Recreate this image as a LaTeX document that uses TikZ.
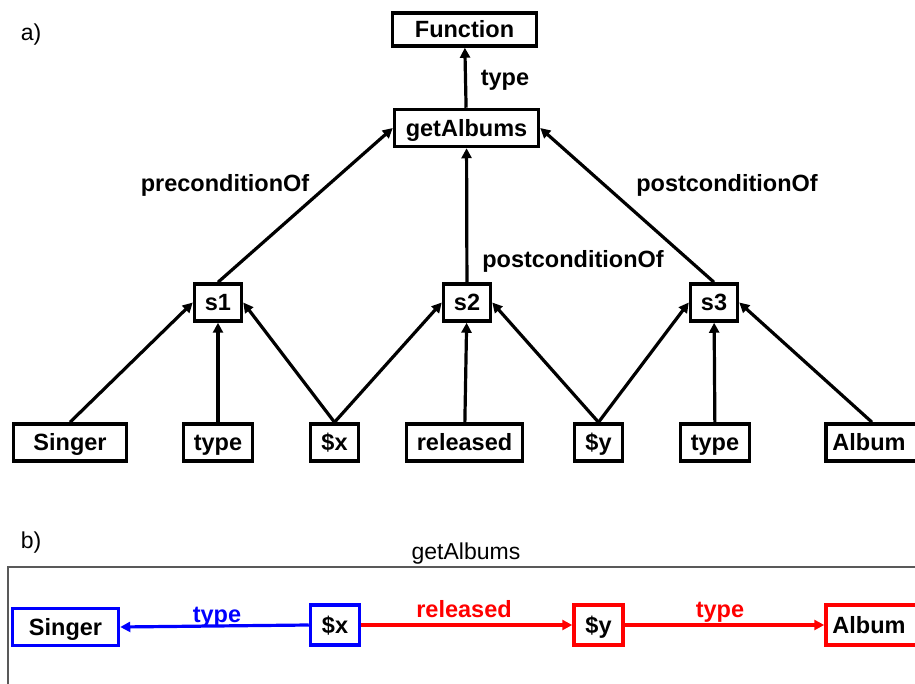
\documentclass[tikz,border=0pt]{standalone}
\usepackage{fontspec}
\setmainfont{Liberation Sans}
\usetikzlibrary{arrows.meta}
\begin{document}
\begin{tikzpicture}[x=1pt,y=-1pt,
  box/.style={draw, line width=3.5pt, inner sep=0pt, minimum height=37pt,
    text height=18pt, text depth=1.5pt,
    font=\fontsize{23.5}{27}\selectfont\bfseries},
  lbl/.style={font=\fontsize{23.5}{27}\selectfont\bfseries, inner sep=0pt,
    text height=18pt, text depth=1.5pt},
  plain/.style={font=\fontsize{23}{27}\selectfont, inner sep=0pt,
    text height=18pt, text depth=1.5pt},
  arr/.style={line width=3.2pt, -{Triangle[length=10pt,width=10pt]}},
  bluebox/.style={box, draw=blue},
  redbox/.style={box, draw=red}]
\useasboundingbox (0,0) rectangle (915,684);
% ---------- a) ----------
\node[plain] (la) at (31,32) {a)};
\node[box, minimum width=144pt, minimum height=33pt] (func) at (464.5,29.5) {Function};
\node[box, minimum width=144pt] (get) at (466.5,128) {getAlbums};
\node[box, minimum width=47pt] (s1) at (218,302.5) {s1};
\node[box, minimum width=47pt] (s2) at (467,302.5) {s2};
\node[box, minimum width=47pt] (s3) at (714,302.5) {s3};
\node[box, minimum width=113pt] (singer) at (70,442.5) {Singer};
\node[box, minimum width=69pt] (type1) at (218,442.5) {type};
\node[box, minimum width=48pt] (x) at (334.5,442.5) {\$x};
\node[box, minimum width=116pt] (rel) at (464.5,442.5) {released};
\node[box, minimum width=48pt] (y) at (598.5,442.5) {\$y};
\node[box, minimum width=69pt] (type2) at (715,442.5) {type};
\node[box, minimum width=100pt] (album) at (876,442.5) {\hspace*{-2pt}Album\hspace*{12pt}};
\draw[arr] (get) -- (func);
\draw[arr] (s1.north) -- (get.west);
\draw[arr] (s2) -- (get);
\draw[arr] (s3.north) -- (get.east);
\draw[arr] (singer.north) -- (s1.west);
\draw[arr] (type1) -- (s1);
\draw[arr] (x.north) -- (s1.east);
\draw[arr] (x.north) -- (s2.west);
\draw[arr] (rel) -- (s2);
\draw[arr] (y.north) -- (s2.east);
\draw[arr] (y.north) -- (s3.west);
\draw[arr] (type2) -- (s3);
\draw[arr] ([xshift=-4pt]album.north) -- (s3.east);
\node[lbl] (ltype) at (505,77) {type};
\node[lbl] (lpre) at (225,183) {preconditionOf};
\node[lbl] (lpost1) at (727,183) {postconditionOf};
\node[lbl] (lpost2) at (573,259) {postconditionOf};
% ---------- b) ----------
\node[plain] (lb) at (31,540) {b)};
\node[plain] (gtitle) at (466,551) {getAlbums};
\draw[line width=1.5pt, black!65] (8,700) |- (935,567);
\node[bluebox, minimum width=106pt] (bsinger) at (65.5,627) {Singer};
\node[bluebox, minimum width=49pt, minimum height=40pt] (bx) at (335,625) {\$x};
\node[redbox, minimum width=49pt, minimum height=40pt] (by) at (598.5,625) {\$y};
\node[redbox, minimum width=100pt, minimum height=40pt] (balbum) at (876,625) {\hspace*{-2pt}Album\hspace*{12pt}};
\draw[arr, blue] (bx.west) -- (bsinger.east);
\draw[arr, red] (bx.east) -- (by.west);
\draw[arr, red] (by.east) -- (balbum.west);
\node[lbl, text=blue] (btype) at (217,614) {type};
\node[lbl, text=red] (brel) at (464,609) {released};
\node[lbl, text=red] (btype2) at (720,609) {type};
\end{tikzpicture}
\end{document}
